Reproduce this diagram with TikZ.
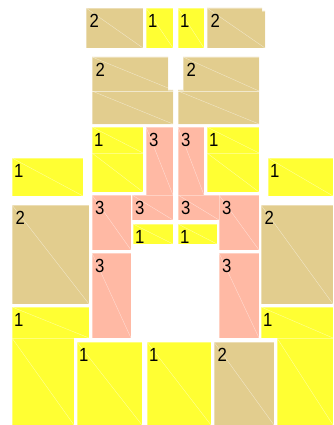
\documentclass[tikz,border=0pt]{standalone}
\usepackage{fontspec}
\setmainfont{Liberation Sans}
\definecolor{tanc}{HTML}{E2CD8E}
\definecolor{yelc}{HTML}{FFFF33}
\definecolor{pnkc}{HTML}{FFB9A4}
\tikzset{
  diag/.style={draw=white, draw opacity=0.55, line width=0.35pt},
  edge/.style={draw=white, draw opacity=0.35, line width=0.8pt},
  lbl/.style={anchor=north west, inner sep=0pt, xscale=0.88,
    font=\fontsize{19}{19}\selectfont, text=black},
}
\newcommand\pcrect[5]{%
  \fill[#1] (#2,#3) rectangle (#4,#5);
  \draw[diag] (#2,#3) -- (#4,#5);
  \draw[edge] (#2,#3) rectangle (#4,#5);
}
\begin{document}
\begin{tikzpicture}[x=1pt, y=-1pt]
\useasboundingbox (0,0) rectangle (333,425);
\fill[white] (0,0) rectangle (333,425);

% ---------- tan pieces ----------
\pcrect{tanc}{86}{8}{143}{48}
\node[lbl] (t1) at (89.5,14) {2};

\fill[tanc] (207,8) -- (262,8) -- (262,11) -- (265,11) -- (265,48) -- (207,48) -- cycle;
\draw[diag] (207,8) -- (265,48);
\draw[edge] (207,8) -- (262,8) -- (262,11) -- (265,11) -- (265,48) -- (207,48) -- cycle;
\node[lbl] (t2) at (210.5,14) {2};

\fill[tanc] (92,57) -- (168,57) -- (168,90) -- (173,90) -- (173,124) -- (92,124) -- cycle;
\draw[diag] (92,57) -- (173,90);
\draw[diag] (92,91) -- (173,124);
\draw[diag] (92,91) -- (173,91);
\draw[edge] (92,57) -- (168,57) -- (168,90) -- (173,90) -- (173,124) -- (92,124) -- cycle;
\node[lbl] (t3) at (95.5,63) {2};

\fill[tanc] (183,57) -- (259,57) -- (259,124) -- (178,124) -- (178,90) -- (183,90) -- cycle;
\draw[diag] (183,57) -- (259,91);
\draw[diag] (178,91) -- (259,124);
\draw[diag] (178,91) -- (259,91);
\draw[edge] (183,57) -- (259,57) -- (259,124) -- (178,124) -- (178,90) -- (183,90) -- cycle;
\node[lbl] (t4) at (186.5,63) {2};

\pcrect{tanc}{12}{205}{89}{304}
\node[lbl] (t5) at (15.5,211) {2};
\pcrect{tanc}{261}{205}{333}{304}
\node[lbl] (t6) at (264.5,211) {2};
\pcrect{tanc}{214}{342}{274}{425}
\node[lbl] (t7) at (217.5,348) {2};

% ---------- yellow pieces ----------
\pcrect{yelc}{146}{8}{173}{48}
\node[lbl] (y1) at (148,14) {1};
\pcrect{yelc}{178}{8}{204}{48}
\node[lbl] (y2) at (180,14) {1};

\pcrect{yelc}{92}{127}{143}{153}
\pcrect{yelc}{92}{153}{143}{192}
\node[lbl] (y3) at (94,133) {1};
\pcrect{yelc}{207}{127}{259}{153}
\pcrect{yelc}{207}{153}{259}{192}
\node[lbl] (y4) at (209,133) {1};

\pcrect{yelc}{12}{158}{83}{196}
\node[lbl] (y5) at (14,164) {1};
\pcrect{yelc}{268}{158}{333}{196}
\node[lbl] (y6) at (270,164) {1};

\pcrect{yelc}{133}{224}{173}{244}
\node[lbl] (y7) at (135,230) {1};
\pcrect{yelc}{178}{224}{217}{244}
\node[lbl] (y8) at (180,230) {1};

\pcrect{yelc}{12}{307}{89}{338}
\pcrect{yelc}{12}{338}{74}{425}
\node[lbl] (y9) at (14,313) {1};

\pcrect{yelc}{77}{342}{142}{425}
\node[lbl] (y10) at (79,348) {1};
\pcrect{yelc}{147}{342}{211}{425}
\node[lbl] (y11) at (149,348) {1};

\pcrect{yelc}{261}{307}{333}{338}
\pcrect{yelc}{277}{338}{333}{425}
\node[lbl] (y12) at (263,313) {1};

% ---------- pink pieces ----------
\pcrect{pnkc}{146}{127}{173}{195}
\node[lbl] (p1) at (149,133) {3};
\pcrect{pnkc}{132}{195}{173}{220}
\node[lbl] (p2) at (135,201) {3};
\pcrect{pnkc}{92}{195}{131}{250}
\node[lbl] (p3) at (95,201) {3};
\pcrect{pnkc}{92}{253}{131}{338}
\node[lbl] (p4) at (95,259) {3};

\pcrect{pnkc}{178}{127}{204}{195}
\node[lbl] (p5) at (181,133) {3};
\pcrect{pnkc}{178}{195}{219}{220}
\node[lbl] (p6) at (181,201) {3};
\pcrect{pnkc}{219}{195}{259}{250}
\node[lbl] (p7) at (222,201) {3};
\pcrect{pnkc}{219}{253}{259}{338}
\node[lbl] (p8) at (222,259) {3};
\end{tikzpicture}
\end{document}
